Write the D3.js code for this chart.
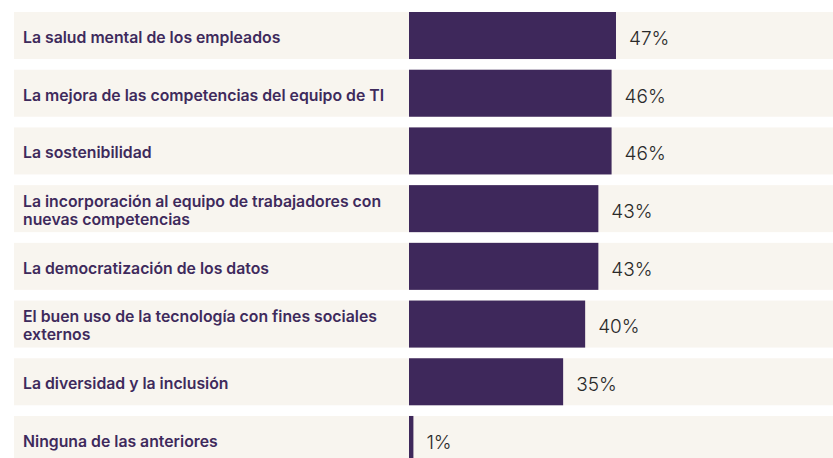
<!DOCTYPE html>
<html>
<head>
<meta charset="utf-8">
<script src="https://cdn.jsdelivr.net/npm/d3@7"></script>
<style>
  html, body { margin: 0; padding: 0; background: #ffffff; }
  svg { display: block; }
</style>
</head>
<body>
<svg id="chart"></svg>
<script>
// ########## Data ##########
categories = [
    ["La salud mental de los empleados"],
    ["La mejora de las competencias del equipo de TI"],
    ["La sostenibilidad"],
    ["La incorporación al equipo de trabajadores con", "nuevas competencias"],
    ["La democratización de los datos"],
    ["El buen uso de la tecnología con fines sociales", "externos"],
    ["La diversidad y la inclusión"],
    ["Ninguna de las anteriores"]
];

values = [47, 46, 46, 43, 43, 40, 35, 1];

w = 833;
h = 458;

// ########## SVG ##########
svg = d3.select("#chart")
    .attr("width", w)
    .attr("height", h);

ids = d3.range(categories.length);

y = d3.scaleBand()
    .domain(ids)
    .range([12, 463])
    .paddingInner(0.185)
    .paddingOuter(0);

x = d3.scaleLinear()
    .domain([0, 100])
    .range([409, 849.4]);

// ########## Row backgrounds ##########
svg.append("g")
    .selectAll("rect")
    .data(ids)
    .enter().append("rect")
    .attr("x", 14)
    .attr("y", function (d) { return y(d); })
    .attr("width", w - 14)
    .attr("height", y.bandwidth())
    .attr("fill", "#f8f5ef");

// ########## Bars ##########
svg.append("g")
    .selectAll("rect")
    .data(ids)
    .enter().append("rect")
    .attr("x", x(0))
    .attr("y", function (d) { return y(d); })
    .attr("width", function (d) { return x(values[d]) - x(0); })
    .attr("height", y.bandwidth())
    .attr("fill", "#3e285b");

// ########## Category labels ##########
label = svg.append("g")
    .selectAll("text")
    .data(ids)
    .enter().append("text")
    .attr("font-family", "Inter, 'Noto Sans', sans-serif")
    .attr("font-size", 15.8)
    .attr("font-weight", 600)
    .attr("fill", "#3e2a5c");

label.each(function (d) {
    var lines = categories[d];
    var cy = y(d) + y.bandwidth() / 2;
    var lh = 18;
    var first = cy + 7.3 - (lines.length - 1) * 9;
    d3.select(this).selectAll("tspan")
        .data(lines)
        .enter().append("tspan")
        .attr("x", 23)
        .attr("y", function (t, i) { return first + i * lh; })
        .text(function (t) { return t; });
});

// ########## Value labels ##########
svg.append("g")
    .selectAll("text")
    .data(ids)
    .enter().append("text")
    .attr("x", function (d) { return x(values[d]) + 13; })
    .attr("y", function (d) { return y(d) + y.bandwidth() / 2 + 9.3; })
    .attr("font-family", "Inter, 'Noto Sans', sans-serif")
    .attr("font-size", 19)
    .attr("font-weight", 300)
    .attr("fill", "#2a2a2a")
    .text(function (d) { return values[d] + "%"; });
</script>
</body>
</html>
